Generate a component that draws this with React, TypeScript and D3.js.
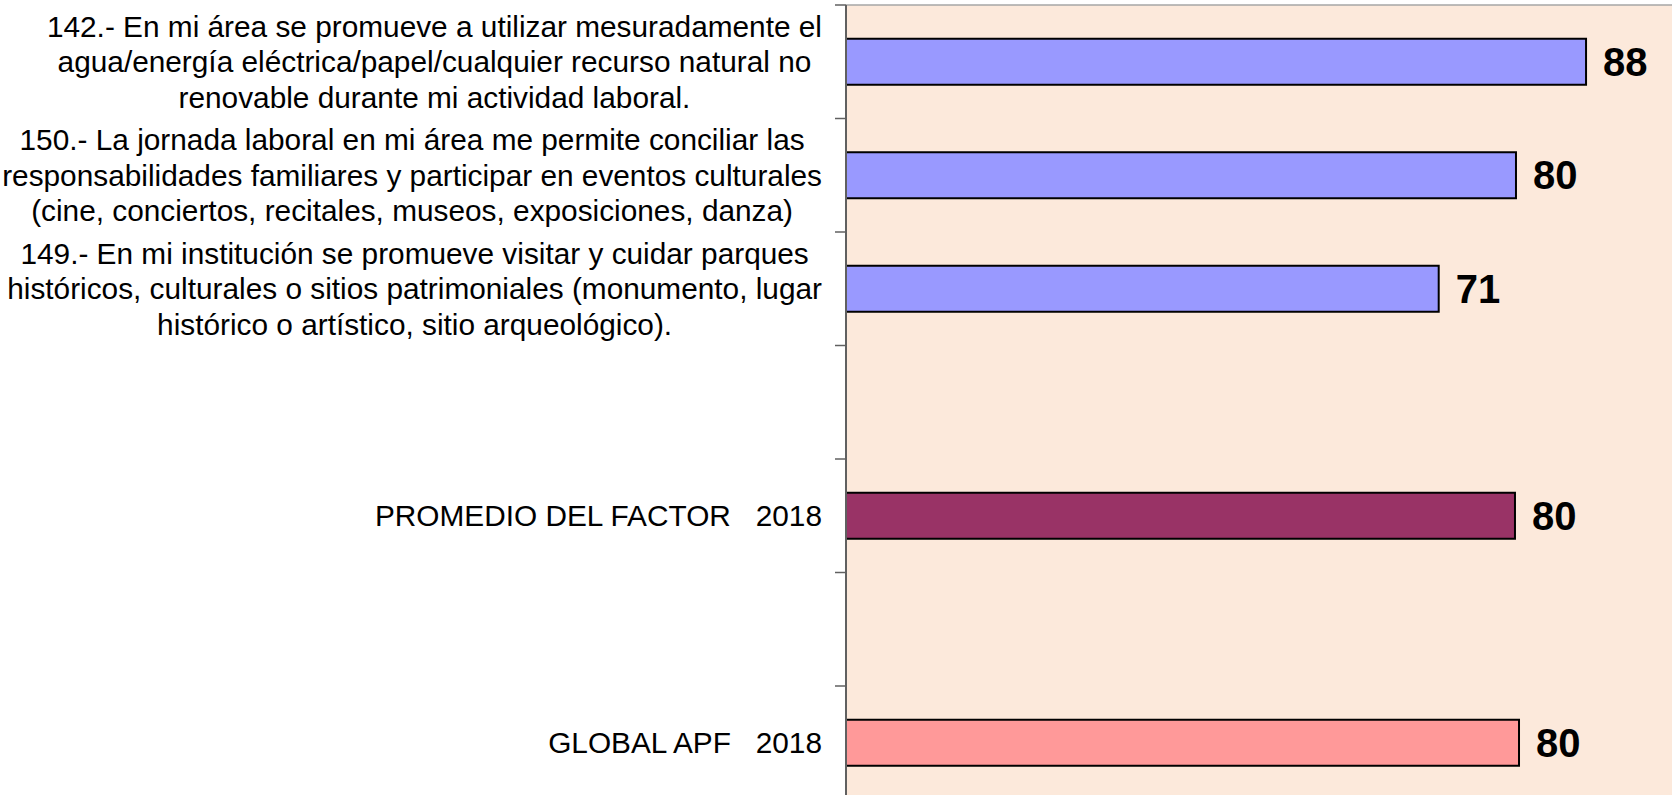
import React, { useEffect, useRef } from "react";
import * as d3 from "d3";

const slots = ["q142", "q150", "q149", "blank1", "promedio", "blank2", "global"];
const labelLines: string[][] = [
  [
    "142.- En mi área se promueve a utilizar mesuradamente el",
    "agua/energía eléctrica/papel/cualquier recurso natural no",
    "renovable durante mi actividad laboral.",
  ],
  [
    "150.- La jornada laboral en mi área me permite conciliar las",
    "responsabilidades familiares y participar en eventos culturales",
    "(cine, conciertos, recitales, museos, exposiciones, danza)",
  ],
  [
    "149.- En mi institución se promueve visitar y cuidar parques",
    "históricos, culturales o sitios patrimoniales (monumento, lugar",
    "histórico o artístico, sitio arqueológico).",
  ],
  [],
  ["PROMEDIO DEL FACTOR   2018"],
  [],
  ["GLOBAL APF   2018"],
];
const values: (number | null)[] = [88.1, 79.76, 70.56, null, 79.64, null, 80.12];
const colors = ["#9999FF", "#9999FF", "#9999FF", "none", "#993366", "none", "#FF9999"];

export default function App() {
  const ref = useRef<SVGSVGElement>(null);
  useEffect(() => {
    const svg = d3.select(ref.current);
    svg.selectAll("*").remove();
    const W = 1672, H = 795;
    const left = 846, top = 5;
    const step = 113.5;
    const x = d3.scaleLinear().domain([0, 100]).range([left, left + 840]);
    const y = d3.scaleBand<string>().domain(slots).range([top, top + step * slots.length]).padding(0);
    const barH = 46;

    svg.append("rect").attr("x", left).attr("y", top).attr("width", W - left).attr("height", H - top).attr("fill", "#FCE9DB");
    svg.append("line").attr("x1", left).attr("x2", W).attr("y1", top).attr("y2", top).attr("stroke", "#a6a6a6").attr("stroke-width", 1.5);

    slots.forEach((s, i) => {
      const v = values[i];
      if (v == null) return;
      const cy = (y(s) as number) + y.bandwidth() / 2;
      svg.append("rect")
        .attr("x", x(0)).attr("y", cy - barH / 2)
        .attr("width", x(v) - x(0)).attr("height", barH)
        .attr("fill", colors[i]).attr("stroke", "#000").attr("stroke-width", 2);
      svg.append("text")
        .attr("x", x(v) + 17).attr("y", cy)
        .attr("dominant-baseline", "central")
        .attr("font-family", "Liberation Sans, Arial, sans-serif")
        .attr("font-weight", "bold").attr("font-size", 40)
        .attr("fill", "#000")
        .text(String(Math.round(v)));
    });

    // axis
    svg.append("line").attr("x1", left).attr("x2", left).attr("y1", top).attr("y2", H).attr("stroke", "#606060").attr("stroke-width", 2);
    const ticks = slots.map((s) => y(s) as number);
    svg.selectAll("line.tick").data(ticks).enter().append("line")
      .attr("class", "tick")
      .attr("x1", left - 11).attr("x2", left).attr("y1", (d) => d).attr("y2", (d) => d)
      .attr("stroke", "#606060").attr("stroke-width", 1.5);

    const rightEdge = 822;
    const lh = 35.5;
    slots.forEach((s, i) => {
      const lines = labelLines[i];
      if (!lines.length) return;
      const cy = (y(s) as number) + y.bandwidth() / 2;
      const g = svg.append("g");
      const texts = lines.map((ln, j) =>
        g.append("text")
          .attr("y", cy + (j - (lines.length - 1) / 2) * lh)
          .attr("dominant-baseline", "central")
          .attr("font-family", "Liberation Sans, Arial, sans-serif")
          .attr("font-size", 29.8)
          .attr("fill", "#000")
          .style("white-space", "pre")
          .text(ln)
      );
      const widths = texts.map((t) => (t.node() as SVGTextElement).getComputedTextLength());
      const maxW = Math.max(...widths);
      if (lines.length === 1) {
        texts[0].attr("x", rightEdge).attr("text-anchor", "end");
      } else {
        const c = rightEdge - maxW / 2;
        texts.forEach((t) => t.attr("x", c).attr("text-anchor", "middle"));
      }
    });
  }, []);
  return (
    <svg ref={ref} width={1672} height={795} style={{ position: "absolute", left: 0, top: 0, background: "#fff" }} />
  );
}
